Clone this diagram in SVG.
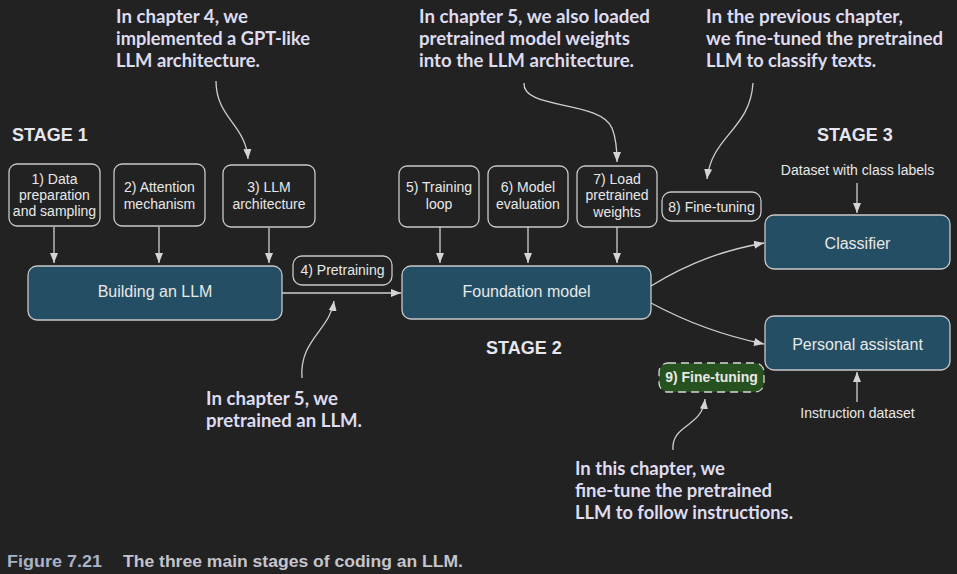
<svg xmlns="http://www.w3.org/2000/svg" width="957" height="574" viewBox="0 0 957 574">
<style>
.box{fill:none;stroke:#c9c9c9;stroke-width:1.3}
.blue{fill:#244e64;stroke:#c9c9c9;stroke-width:1.3}
.lbl{font-family:"Liberation Sans",Arial,sans-serif;font-size:14px;fill:#e8e8e8;text-anchor:middle}
.big{font-family:"Liberation Sans",Arial,sans-serif;font-size:16px;fill:#e8e8e8;text-anchor:middle}
.stage{font-family:"Liberation Sans",Arial,sans-serif;font-size:18px;font-weight:bold;fill:#e6e6ee}
.ann{font-family:Lato,"Open Sans",sans-serif;font-size:18.5px;font-weight:bold;fill:#dedcf0}
.cap{font-family:"Liberation Sans",Arial,sans-serif;font-size:16px;font-weight:bold}
.conn{fill:none;stroke:#cfcfcf;stroke-width:1.3;marker-end:url(#ah)}
</style>
<defs>
<marker id="ah" viewBox="0 0 10 10" refX="10" refY="5" markerWidth="10" markerHeight="10" markerUnits="userSpaceOnUse" orient="auto">
<path d="M0,1 L10,5 L0,9 z" fill="#d4d4d4"/>
</marker>
</defs>
<rect x="0" y="0" width="957" height="574" fill="#222222"/>

<text class="stage" x="12" y="141">STAGE 1</text>
<text class="stage" x="486" y="354">STAGE 2</text>
<text class="stage" x="817" y="141">STAGE 3</text>

<g id="n1"><rect class="box" x="9" y="164" width="91" height="62" rx="8"/>
<text class="lbl" x="54.5" y="184">1) Data</text><text class="lbl" x="54.5" y="200">preparation</text><text class="lbl" x="54.5" y="216">and sampling</text></g>
<g id="n2"><rect class="box" x="114" y="164" width="91" height="62" rx="8"/>
<text class="lbl" x="159.5" y="192">2) Attention</text><text class="lbl" x="159.5" y="209">mechanism</text></g>
<g id="n3"><rect class="box" x="223" y="165" width="92" height="62" rx="8"/>
<text class="lbl" x="269" y="192">3) LLM</text><text class="lbl" x="269" y="209">architecture</text></g>
<g id="n4"><rect class="blue" x="28" y="266" width="254" height="54" rx="9"/>
<text class="big" x="155" y="297">Building an LLM</text></g>
<g id="pre"><rect class="box" x="293" y="256" width="99" height="29" rx="9"/>
<text class="lbl" x="342.5" y="275">4) Pretraining</text></g>

<g id="n5"><rect class="box" x="399" y="166" width="80" height="61" rx="8"/>
<text class="lbl" x="439" y="192">5) Training</text><text class="lbl" x="439" y="209">loop</text></g>
<g id="n6"><rect class="box" x="488" y="166" width="80" height="61" rx="8"/>
<text class="lbl" x="528" y="192">6) Model</text><text class="lbl" x="528" y="209">evaluation</text></g>
<g id="n7"><rect class="box" x="577" y="166" width="80" height="61" rx="8"/>
<text class="lbl" x="617" y="184">7) Load</text><text class="lbl" x="617" y="200">pretrained</text><text class="lbl" x="617" y="217">weights</text></g>
<g id="found"><rect class="blue" x="402" y="266" width="249" height="53" rx="9"/>
<text class="big" x="526.5" y="297">Foundation model</text></g>
<g id="ft8"><rect class="box" x="662" y="192" width="99" height="29" rx="9"/>
<text class="lbl" x="711.5" y="212">8) Fine-tuning</text></g>

<g id="classifier"><rect class="blue" x="765" y="215" width="185" height="54" rx="9"/>
<text class="big" x="857.5" y="249">Classifier</text></g>
<g id="assistant"><rect class="blue" x="765" y="316" width="185" height="54" rx="9"/>
<text class="big" x="857.5" y="350">Personal assistant</text></g>
<g id="ft9"><rect x="659" y="363" width="105" height="29" rx="9" fill="#26521f" stroke="#d8d8d8" stroke-width="1.3" stroke-dasharray="8,5"/>
<text class="lbl" x="711.5" y="382" font-weight="bold">9) Fine-tuning</text></g>
<g id="ds1"><text class="lbl" x="857.5" y="175">Dataset with class labels</text></g>
<g id="ds2"><text class="lbl" x="857.5" y="418">Instruction dataset</text></g>

<g id="connectors">
<path class="conn" d="M54,227 L54,263"/>
<path class="conn" d="M159,227 L159,263"/>
<path class="conn" d="M269,228 L269,263"/>
<path class="conn" d="M440,227 L440,263"/>
<path class="conn" d="M528,227 L528,263"/>
<path class="conn" d="M617,227 L617,263"/>
<path class="conn" d="M282,293 L401,293"/>
<path class="conn" d="M651,286 C690,262 725,250 764,243"/>
<path class="conn" d="M651,303 C690,324 725,336 764,344"/>
<path class="conn" d="M857,183 L857,213"/>
<path class="conn" d="M857,402 L857,372"/>
<path class="conn" d="M216,81 C216,118 246,125 248,159"/>
<path class="conn" d="M524,83 C522,110 600,100 612,128 C616,138 617,150 617,162"/>
<path class="conn" d="M753,83 C750,130 712,135 707,179"/>
<path class="conn" d="M302,378 C299,340 330,330 334,301"/>
<path class="conn" d="M673,450 C671,424 702,428 705,399"/>
</g>

<g id="notes">
<text class="ann" x="116" y="23" textLength="132" lengthAdjust="spacingAndGlyphs">In chapter 4, we</text>
<text class="ann" x="116" y="45" textLength="194" lengthAdjust="spacingAndGlyphs">implemented a GPT-like</text>
<text class="ann" x="116" y="67" textLength="144" lengthAdjust="spacingAndGlyphs">LLM architecture.</text>
<text class="ann" x="419" y="23" textLength="231" lengthAdjust="spacingAndGlyphs">In chapter 5, we also loaded</text>
<text class="ann" x="419" y="45" textLength="211" lengthAdjust="spacingAndGlyphs">pretrained model weights</text>
<text class="ann" x="419" y="67" textLength="215" lengthAdjust="spacingAndGlyphs">into the LLM architecture.</text>
<text class="ann" x="706" y="23" textLength="197" lengthAdjust="spacingAndGlyphs">In the previous chapter,</text>
<text class="ann" x="706" y="45" textLength="237" lengthAdjust="spacingAndGlyphs">we fine-tuned the pretrained</text>
<text class="ann" x="706" y="67" textLength="170" lengthAdjust="spacingAndGlyphs">LLM to classify texts.</text>
<text class="ann" x="206" y="405" textLength="132" lengthAdjust="spacingAndGlyphs">In chapter 5, we</text>
<text class="ann" x="206" y="427" textLength="156" lengthAdjust="spacingAndGlyphs">pretrained an LLM.</text>
<text class="ann" x="575" y="475" textLength="150" lengthAdjust="spacingAndGlyphs">In this chapter, we</text>
<text class="ann" x="575" y="497" textLength="197" lengthAdjust="spacingAndGlyphs">fine-tune the pretrained</text>
<text class="ann" x="575" y="519" textLength="218" lengthAdjust="spacingAndGlyphs">LLM to follow instructions.</text>
</g>

<g id="caption">
<text class="cap" x="7" y="567" fill="#a9b3c8" textLength="95" lengthAdjust="spacingAndGlyphs">Figure 7.21</text>
<text class="cap" x="123" y="567" fill="#c4c4cc" textLength="340" lengthAdjust="spacingAndGlyphs">The three main stages of coding an LLM.</text>
</g>
</svg>
